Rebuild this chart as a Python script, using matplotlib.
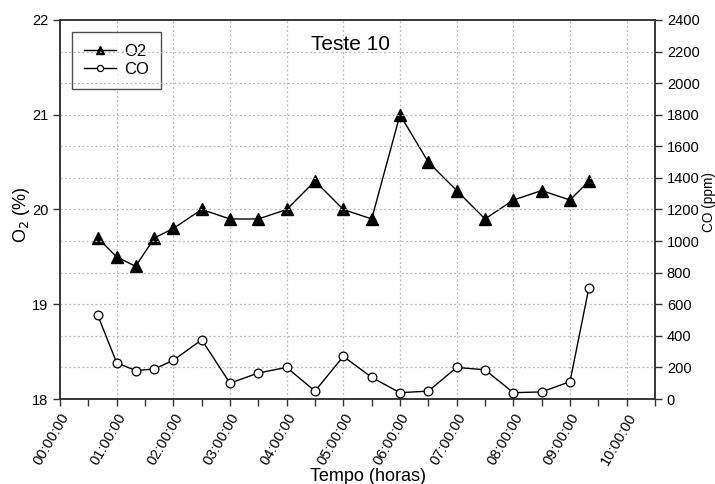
import matplotlib
matplotlib.use("Agg")
import matplotlib.pyplot as plt
from matplotlib.ticker import MultipleLocator, FuncFormatter

plt.rcParams["font.family"] = ["Liberation Sans", "DejaVu Sans"]

# sampling times (hours since start) and readings
horas = [2/3, 1, 4/3, 5/3, 2, 2.5, 3, 3.5, 4, 4.5, 5, 5.5, 6, 6.5, 7, 7.5,
         8, 8.5, 9, 28/3]
o2 = [19.7, 19.5, 19.4, 19.7, 19.8, 20.0, 19.9, 19.9, 20.0, 20.3, 20.0,
      19.9, 21.0, 20.5, 20.2, 19.9, 20.1, 20.2, 20.1, 20.3]
co = [530, 230, 180, 190, 245, 375, 100, 165, 200, 50, 270, 137, 40, 50,
      200, 185, 40, 45, 110, 705]


def hms(x, pos):
    h = int(round(x * 3600))
    return "%02d:%02d:%02d" % (h // 3600, (h % 3600) // 60, h % 60)


fig = plt.figure(figsize=(7.15, 4.84), dpi=100)
ax = fig.add_axes([0.0839, 0.1756, 0.8322, 0.7831])
ax2 = ax.twinx()

# grid follows the CO scale (every 200 ppm) and the hourly ticks
for v in range(200, 2400, 200):
    ax2.axhline(v, color="#b8b8b8", lw=0.9, ls=(0, (1.5, 2)), zorder=0)
ax.xaxis.grid(True, color="#b8b8b8", lw=0.9, ls=(0, (1.5, 2)))
ax.set_axisbelow(True)

l1, = ax.plot(horas, o2, color="black", lw=1.0, marker="^", ms=8.5,
              mfc="black", mec="black", label="O2", zorder=3)
l2, = ax2.plot(horas, co, color="black", lw=1.0, marker="o", ms=6.3,
               mfc="white", mec="black", mew=0.9, label="CO", zorder=3)

ax.set_xlim(0, 10.5)
ax.set_ylim(18, 22)
ax2.set_ylim(0, 2400)

ax.xaxis.set_major_locator(MultipleLocator(1))
ax.xaxis.set_minor_locator(MultipleLocator(0.5))
ax.xaxis.set_major_formatter(FuncFormatter(hms))
ax.yaxis.set_major_locator(MultipleLocator(1))
ax2.yaxis.set_major_locator(MultipleLocator(200))

ax.tick_params(axis="both", which="both", direction="out", length=5,
               width=1, labelsize=10.5, color="#333333")
ax2.tick_params(axis="y", direction="out", length=5, width=1,
                labelsize=10.5, color="#333333")
plt.setp(ax.get_xticklabels(), rotation=60, ha="right",
         rotation_mode="anchor")

for a in (ax, ax2):
    for s in a.spines.values():
        s.set_color("#333333")
        s.set_linewidth(1.1)

ax.set_ylabel("O$_2$ (%)", fontsize=13)
ax.yaxis.set_label_coords(-0.047, 0.486)
ax2.set_ylabel("CO (ppm)", fontsize=9.8, rotation=90)
ax2.yaxis.set_label_coords(1.0785, 0.521)
ax.set_xlabel("Tempo (horas)", fontsize=13)
ax.xaxis.set_label_coords(0.518, -0.182)

ax.text(0.488, 0.921, "Teste 10", transform=ax.transAxes, fontsize=15,
        ha="center", va="baseline")

leg = ax.legend(handles=[l1, l2], loc="upper left",
                bbox_to_anchor=(0.0202, 0.9675), borderaxespad=0,
                fontsize=12, frameon=True, fancybox=False,
                handlelength=1.95, markerscale=0.7,
                borderpad=0.7, labelspacing=0.2, handletextpad=0.5)
leg.get_frame().set_edgecolor("#222222")
leg.get_frame().set_linewidth(1.0)
leg.set_zorder(5)

fig.savefig("out.png", dpi=100)
